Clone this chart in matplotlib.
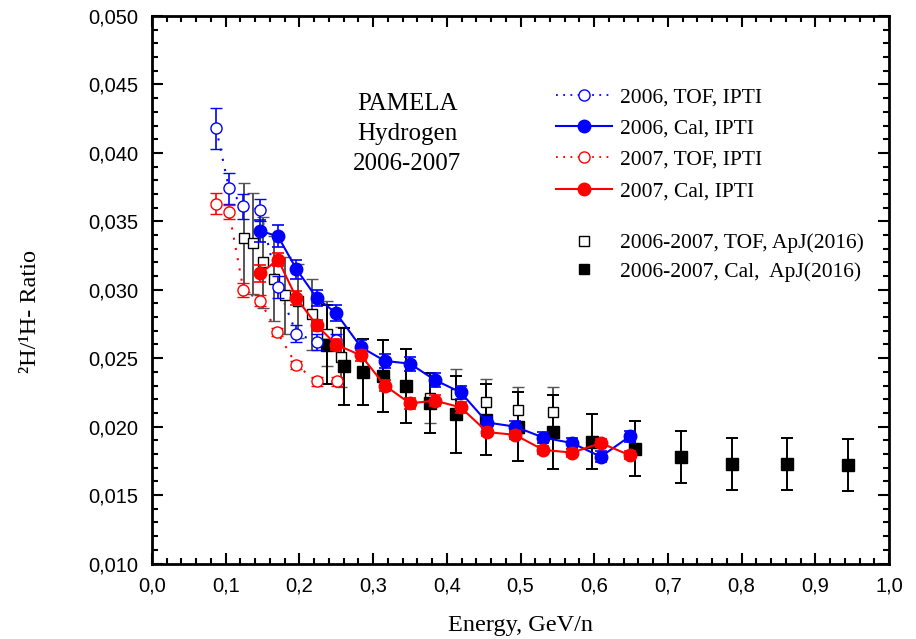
import matplotlib
matplotlib.use("Agg")
import matplotlib.pyplot as plt
from matplotlib.lines import Line2D
from matplotlib.ticker import MultipleLocator, FuncFormatter

# ---------------- data ----------------
tof06_x = [0.087, 0.1045, 0.124, 0.147, 0.171, 0.196, 0.2235, 0.2497]
tof06_y = [0.0418, 0.0374, 0.0361, 0.0358, 0.0302, 0.0268, 0.0262, 0.0263]
tof06_e = [0.0015, 0.0011, 0.0009, 0.0008, 0.0008, 0.0006, 0.0006, 0.0005]

cal06_x = [0.147, 0.171, 0.196, 0.2235, 0.2497, 0.2836, 0.316, 0.350, 0.384,
           0.419, 0.455, 0.4925, 0.531, 0.570, 0.609, 0.6486]
cal06_y = [0.0343, 0.0339, 0.0315, 0.0294, 0.0283, 0.0258, 0.0248, 0.0246, 0.0234,
           0.0225, 0.0203, 0.0200, 0.0192, 0.0188, 0.0178, 0.0193]
cal06_e = [0.0008, 0.0008, 0.0007, 0.0006, 0.0006, 0.0005, 0.0005, 0.0005, 0.0005,
           0.0005, 0.0004, 0.0004, 0.0004, 0.0004, 0.0004, 0.0004]

tof07_x = [0.087, 0.1045, 0.124, 0.1466, 0.170, 0.196, 0.2235, 0.2505]
tof07_y = [0.0363, 0.0357, 0.0300, 0.0292, 0.0269, 0.0245, 0.0233, 0.0233]
tof07_e = [0.0008, 0.0005, 0.0005, 0.0004, 0.0003, 0.0003, 0.0003, 0.0003]

cal07_x = [0.147, 0.171, 0.196, 0.2235, 0.2497, 0.2836, 0.316, 0.350, 0.384,
           0.419, 0.455, 0.4925, 0.531, 0.570, 0.609, 0.6486]
cal07_y = [0.0312, 0.0322, 0.0294, 0.0274, 0.0260, 0.0252, 0.0230, 0.0217, 0.0219,
           0.0214, 0.0196, 0.0194, 0.0183, 0.0181, 0.0188, 0.0179]
cal07_e = [0.0006, 0.0005, 0.0005, 0.0004, 0.0004, 0.0004, 0.0004, 0.0004, 0.0004,
           0.0004, 0.0003, 0.0003, 0.0003, 0.0003, 0.0003, 0.0003]

apj_tof_x = [0.125, 0.137, 0.150, 0.165, 0.180, 0.198, 0.217, 0.237, 0.256,
             0.377, 0.413, 0.453, 0.497, 0.544]
apj_tof_y = [0.0338, 0.0334, 0.0320, 0.0308, 0.0296, 0.0292, 0.0282, 0.0268, 0.0251,
             0.0221, 0.0224, 0.0218, 0.0212, 0.0211]
apj_tof_e = [0.0040, 0.0037, 0.0033, 0.0031, 0.0028, 0.0027, 0.0026, 0.0024, 0.0022,
             0.0018, 0.0018, 0.0017, 0.0017, 0.0018]

apj_cal_x = [0.237, 0.2605, 0.286, 0.314, 0.3445, 0.377, 0.413, 0.453, 0.497,
             0.5435, 0.597, 0.655, 0.718, 0.787, 0.862, 0.944]
apj_cal_y = [0.0260, 0.0244, 0.0240, 0.0237, 0.0230, 0.0217, 0.0209, 0.0205, 0.0200,
             0.0196, 0.0189, 0.0184, 0.0178, 0.0173, 0.0173, 0.0172]
apj_cal_e = [0.0029, 0.0028, 0.0024, 0.0026, 0.0027, 0.0022, 0.0028, 0.0026, 0.0025,
             0.0027, 0.0020, 0.0020, 0.0019, 0.0019, 0.0019, 0.0019]

labels = ["2006, TOF, IPTI", "2006, Cal, IPTI", "2007, TOF, IPTI", "2007, Cal, IPTI",
          "2006-2007, TOF, ApJ(2016)", "2006-2007, Cal,  ApJ(2016)"]
annot = "PAMELA\nHydrogen\n2006-2007"

BLUE = "#0000ff"
RED = "#ff0000"
SERIF = ["Liberation Serif", "DejaVu Serif"]
SANS = ["Liberation Sans", "DejaVu Sans"]

W, H = 916, 639
fig = plt.figure(figsize=(W / 100, H / 100), dpi=100)
ax = fig.add_axes([152 / W, 1 - 563.5 / H, (889 - 152) / W, (563.5 - 16) / H])

# ApJ squares
ax.errorbar(apj_tof_x, apj_tof_y, yerr=apj_tof_e, fmt="s", ms=7.5, mfc="white", mec="black",
            mew=1.0, ecolor="#555555", elinewidth=1.4, capsize=4.5, capthick=1.4, zorder=3)
ax.errorbar(apj_cal_x, apj_cal_y, yerr=apj_cal_e, fmt="s", ms=8.5, mfc="black", mec="black",
            ecolor="black", elinewidth=1.4, capsize=4.5, capthick=1.4, zorder=3)

# TOF open circles (dotted)
ax.errorbar(tof06_x, tof06_y, yerr=tof06_e, fmt="o", ms=8, mfc="white", mec=BLUE, mew=1.0,
            ecolor=BLUE, elinewidth=1.2, capsize=4.5, capthick=1.2, zorder=4)
ax.plot(tof06_x, tof06_y, ls=(0, (1, 4)), color=BLUE, lw=1.5, zorder=2)
ax.errorbar(tof07_x, tof07_y, yerr=tof07_e, fmt="o", ms=8, mfc="white", mec=RED, mew=1.0,
            ecolor=RED, elinewidth=1.2, capsize=4.5, capthick=1.2, zorder=4)
ax.plot(tof07_x, tof07_y, ls=(0, (1, 4)), color=RED, lw=1.5, zorder=2)

# Cal filled circles (solid)
ax.errorbar(cal06_x, cal06_y, yerr=cal06_e, fmt="o", ms=9, mfc=BLUE, mec=BLUE,
            ecolor=BLUE, elinewidth=1.2, capsize=4.5, capthick=1.2, zorder=5)
ax.plot(cal06_x, cal06_y, "-", color=BLUE, lw=1.5, zorder=5)
ax.errorbar(cal07_x, cal07_y, yerr=cal07_e, fmt="o", ms=9, mfc=RED, mec=RED,
            ecolor=RED, elinewidth=1.2, capsize=4.5, capthick=1.2, zorder=6)
ax.plot(cal07_x, cal07_y, "-", color=RED, lw=1.5, zorder=6)

# axes
ax.set_xlim(0.0, 1.0)
ax.set_ylim(0.010, 0.050)
ax.xaxis.set_major_locator(MultipleLocator(0.1))
ax.xaxis.set_minor_locator(MultipleLocator(0.02))
ax.yaxis.set_major_locator(MultipleLocator(0.005))
ax.yaxis.set_minor_locator(MultipleLocator(0.001))
ax.xaxis.set_major_formatter(FuncFormatter(lambda v, p: f"{v:.1f}".replace(".", ",")))
ax.yaxis.set_major_formatter(FuncFormatter(lambda v, p: f"{v:.3f}".replace(".", ",")))
ax.tick_params(which="both", direction="in", top=True, right=True, width=1.5)
ax.tick_params(which="major", length=8)
ax.tick_params(which="minor", length=4)
ax.tick_params(axis="x", which="major", pad=9)
ax.tick_params(axis="y", which="major", pad=10)
for lab in ax.get_xticklabels() + ax.get_yticklabels():
    lab.set_fontfamily(SANS)
    lab.set_fontsize(14.5)
for sp in ax.spines.values():
    sp.set_linewidth(2)

fig.text(520 / W, 1 - 626 / H, "Energy, GeV/n", ha="center", va="center",
         fontsize=17.5, family=SERIF)
fig.text(31 / W, 1 - 312 / H, "\u00b2H/\u00b9H- Ratio", ha="center", va="center",
         rotation=90, fontsize=17.5, family=SERIF)

ax.text((407 - 152) / (889 - 152), 1 - (134 - 16) / (563.5 - 16), annot, transform=ax.transAxes,
        ha="center", va="center", fontsize=18, family=SERIF, linespacing=1.45)

# legends
h1 = [Line2D([], [], ls=(0, (1, 3)), color=BLUE, lw=1.3, marker="o", ms=8, mfc="white", mec=BLUE),
      Line2D([], [], ls="-", color=BLUE, lw=1.5, marker="o", ms=9, mfc=BLUE, mec=BLUE),
      Line2D([], [], ls=(0, (1, 3)), color=RED, lw=1.3, marker="o", ms=8, mfc="white", mec=RED),
      Line2D([], [], ls="-", color=RED, lw=1.5, marker="o", ms=9, mfc=RED, mec=RED)]
h2 = [Line2D([], [], ls="none", marker="s", ms=7, mfc="white", mec="black"),
      Line2D([], [], ls="none", marker="s", ms=7, mfc="black", mec="black")]
lg1 = fig.legend(h1, labels[:4], loc="upper left", bbox_to_anchor=(556 / W, 1 - 87 / H),
                 frameon=False, borderpad=0, borderaxespad=0, handlelength=2.6,
                 handletextpad=0.35, labelspacing=0.53, prop={"family": SERIF, "size": 15.5})
lg2 = fig.legend(h2, labels[4:], loc="upper left", bbox_to_anchor=(556 / W, 1 - 233 / H),
                 frameon=False, borderpad=0, borderaxespad=0, handlelength=2.6,
                 handletextpad=0.35, labelspacing=0.4, prop={"family": SERIF, "size": 15.5})

fig.savefig("out.png", dpi=100)
